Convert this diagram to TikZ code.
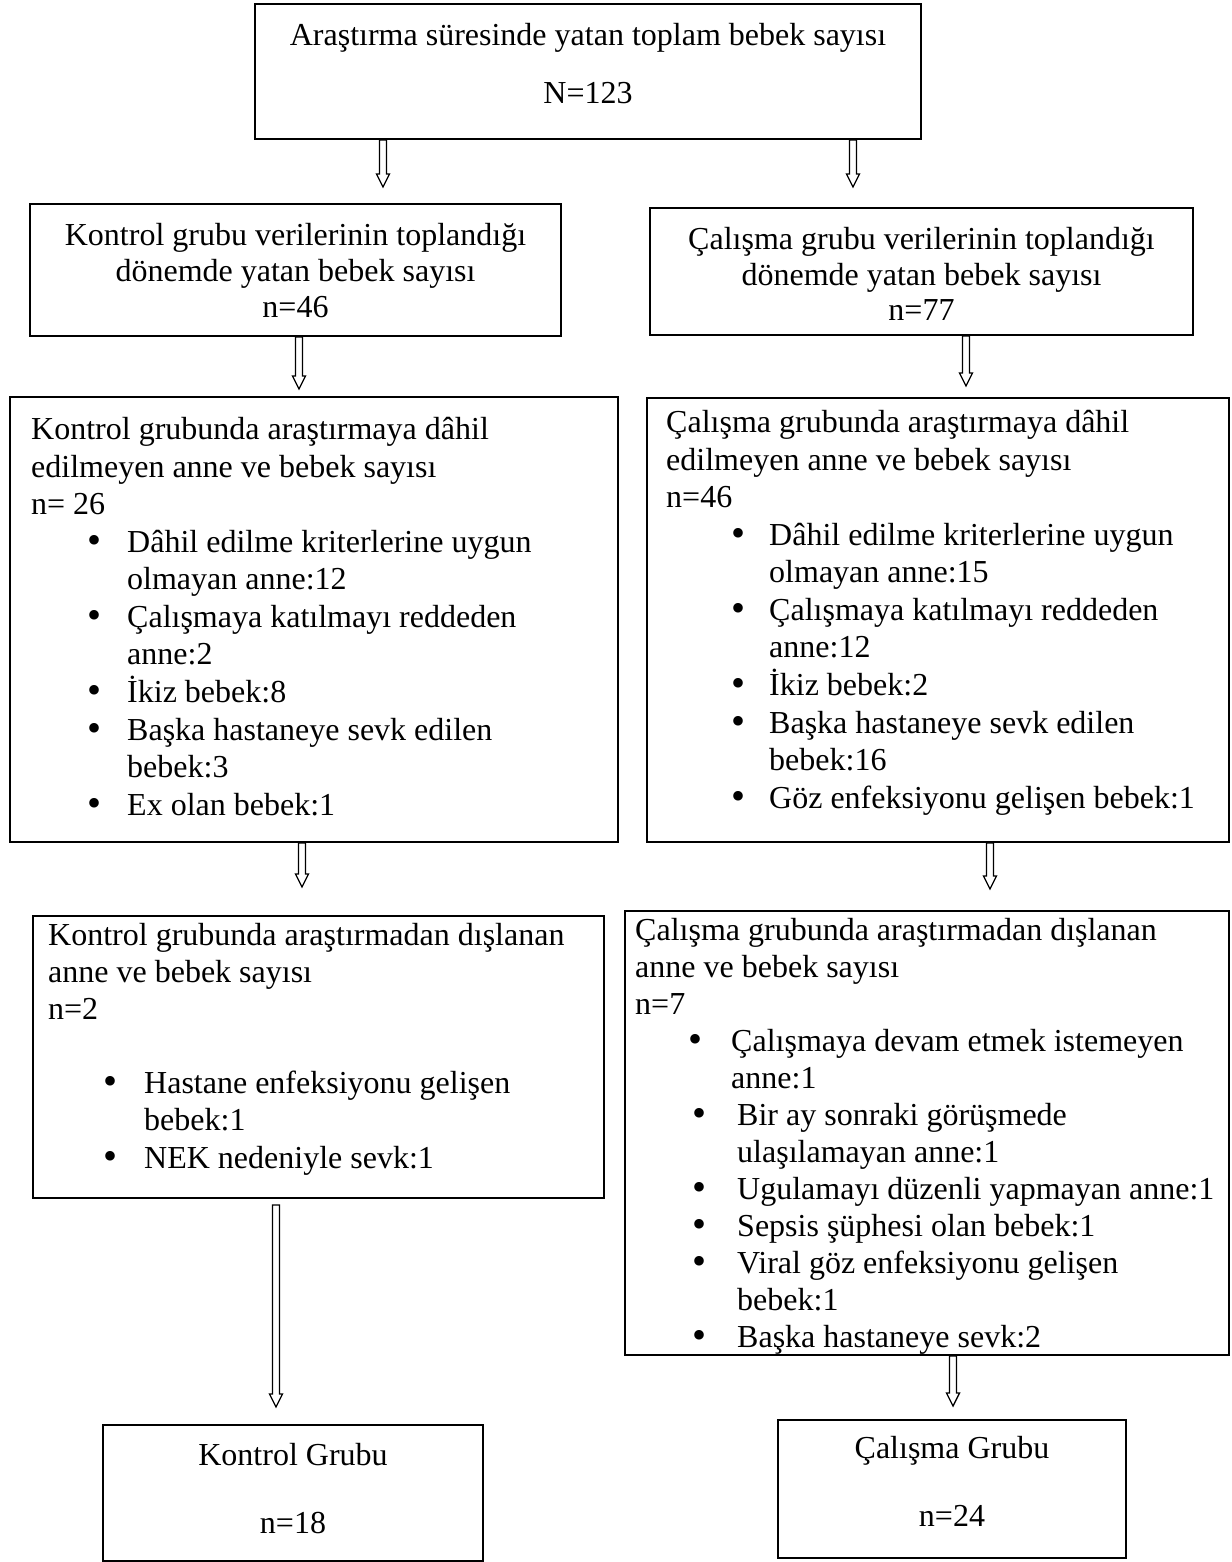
\documentclass[tikz,border=0pt]{standalone}
\usepackage{fontspec}
\usepackage{graphicx}
\setmainfont{Liberation Serif}
\usetikzlibrary{calc}
\newcommand{\fsz}{\fontsize{32}{37}\selectfont}
\newcommand{\tl}[4]{\node[txt] (#1) at (#2,#3) {#4};}
\newcommand{\tc}[4]{\node[ctxt] (#1) at (#2,#3) {#4};}
\newcommand{\tb}[3]{\node[txt, yshift=-1.5pt] (#1) at (#2,#3) {\scalebox{1.25}{\textbullet}};}
\begin{document}
\begin{tikzpicture}[x=1pt,y=-1pt,
  box/.style={draw, line width=2pt, inner sep=0pt},
  txt/.style={inner sep=0pt, font=\fsz, anchor=base west},
  ctxt/.style={inner sep=0pt, font=\fsz, anchor=base},
  harrow/.style={line width=1.3pt, line join=miter, to path={
     let \p1=(\tikztostart), \p2=(\tikztotarget) in
     (\x1-3.5pt,\y1) -- (\x1-3.5pt,\y2+13pt) -- (\x1-6.5pt,\y2+13pt) -- (\x1,\y2)
     -- (\x1+6.5pt,\y2+13pt) -- (\x1+3.5pt,\y2+13pt) -- (\x1+3.5pt,\y1) -- cycle}}
]
\useasboundingbox (0,0) rectangle (1231,1562);

% boxes
\node[box, minimum width=666, minimum height=135] (T)  at (588,71.5) {};
\node[box, minimum width=531, minimum height=132] (L2) at (295.5,270) {};
\node[box, minimum width=543, minimum height=127] (R2) at (921.5,271.5) {};
\node[box, minimum width=608, minimum height=445] (L3) at (314,619.5) {};
\node[box, minimum width=582, minimum height=444] (R3) at (938,620) {};
\node[box, minimum width=571, minimum height=282] (L4) at (318.5,1057) {};
\node[box, minimum width=604, minimum height=444] (R4) at (927,1133) {};
\node[box, minimum width=380, minimum height=136] (L5) at (293,1493) {};
\node[box, minimum width=348, minimum height=138] (R5) at (952,1489) {};

% arrows
\coordinate (a1) at (383,0);
\coordinate (a2) at (853,0);
\coordinate (a3) at (299,0);
\coordinate (a4) at (966,0);
\coordinate (a5) at (302,0);
\coordinate (a6) at (990,0);
\coordinate (a7) at (276,0);
\coordinate (a8) at (953,0);
\draw[harrow] (T.south -| a1) to ($(L2.north -| a1)+(0,-16)$);
\draw[harrow] (T.south -| a2) to ($(R2.north -| a2)+(0,-20)$);
\draw[harrow] (L2.south -| a3) to ($(L3.north -| a3)+(0,-7)$);
\draw[harrow] (R2.south -| a4) to ($(R3.north -| a4)+(0,-11)$);
\draw[harrow] (L3.south -| a5) to ($(L4.north -| a5)+(0,-28)$);
\draw[harrow] (R3.south -| a6) to ($(R4.north -| a6)+(0,-21)$);
\draw[harrow] ($(L4.south -| a7)+(0,6)$) to ($(L5.north -| a7)+(0,-17)$);
\draw[harrow] (R4.south -| a8) to ($(R5.north -| a8)+(0,-13)$);

% top
\tc{t1}{588}{46}{Araştırma süresinde yatan toplam bebek sayısı}
\tc{t2}{588}{104}{N=123}

% level 2
\tc{l2a}{295.5}{245}{Kontrol grubu verilerinin toplandığı}
\tc{l2b}{295.5}{281}{dönemde yatan bebek sayısı}
\tc{l2c}{295.5}{317}{n=46}
\tc{r2a}{921.5}{250}{Çalışma grubu verilerinin toplandığı}
\tc{r2b}{921.5}{285}{dönemde yatan bebek sayısı}
\tc{r2c}{921.5}{320}{n=77}

% level 3 left
\tl{l3a}{31}{439}{Kontrol grubunda araştırmaya dâhil}
\tl{l3b}{31}{477}{edilmeyen anne ve bebek sayısı}
\tl{l3c}{31}{514}{n= 26}
\tb{l3d}{87}{552}\tl{l3e}{127}{552}{Dâhil edilme kriterlerine uygun}
\tl{l3f}{127}{589}{olmayan anne:12}
\tb{l3g}{87}{627}\tl{l3h}{127}{627}{Çalışmaya katılmayı reddeden}
\tl{l3i}{127}{664}{anne:2}
\tb{l3j}{87}{702}\tl{l3k}{127}{702}{İkiz bebek:8}
\tb{l3l}{87}{740}\tl{l3m}{127}{740}{Başka hastaneye sevk edilen}
\tl{l3n}{127}{777}{bebek:3}
\tb{l3o}{87}{815}\tl{l3p}{127}{815}{Ex olan bebek:1}

% level 3 right
\tl{r3a}{666}{432}{Çalışma grubunda araştırmaya dâhil}
\tl{r3b}{666}{470}{edilmeyen anne ve bebek sayısı}
\tl{r3c}{666}{507}{n=46}
\tb{r3d}{731}{545}\tl{r3e}{769}{545}{Dâhil edilme kriterlerine uygun}
\tl{r3f}{769}{582}{olmayan anne:15}
\tb{r3g}{731}{620}\tl{r3h}{769}{620}{Çalışmaya katılmayı reddeden}
\tl{r3i}{769}{657}{anne:12}
\tb{r3j}{731}{695}\tl{r3k}{769}{695}{İkiz bebek:2}
\tb{r3l}{731}{733}\tl{r3m}{769}{733}{Başka hastaneye sevk edilen}
\tl{r3n}{769}{770}{bebek:16}
\tb{r3o}{731}{808}\tl{r3p}{769}{808}{Göz enfeksiyonu gelişen bebek:1}

% level 4 left
\tl{l4a}{48}{945}{Kontrol grubunda araştırmadan dışlanan}
\tl{l4b}{48}{982}{anne ve bebek sayısı}
\tl{l4c}{48}{1019}{n=2}
\tb{l4d}{103}{1093}\tl{l4e}{144}{1093}{Hastane enfeksiyonu gelişen}
\tl{l4f}{144}{1130}{bebek:1}
\tb{l4g}{103}{1168}\tl{l4h}{144}{1168}{NEK nedeniyle sevk:1}

% level 4 right
\tl{r4a}{635}{940}{Çalışma grubunda araştırmadan dışlanan}
\tl{r4b}{635}{977}{anne ve bebek sayısı}
\tl{r4c}{635}{1014}{n=7}
\tb{r4d}{688}{1051}\tl{r4e}{731}{1051}{Çalışmaya devam etmek istemeyen}
\tl{r4f}{731}{1088}{anne:1}
\tb{r4g}{692}{1125}\tl{r4h}{737}{1125}{Bir ay sonraki görüşmede}
\tl{r4i}{737}{1162}{ulaşılamayan anne:1}
\tb{r4j}{692}{1199}\tl{r4k}{737}{1199}{Ugulamayı düzenli yapmayan anne:1}
\tb{r4l}{692}{1236}\tl{r4m}{737}{1236}{Sepsis şüphesi olan bebek:1}
\tb{r4n}{692}{1273}\tl{r4o}{737}{1273}{Viral göz enfeksiyonu gelişen}
\tl{r4p}{737}{1310}{bebek:1}
\tb{r4q}{692}{1347}\tl{r4r}{737}{1347}{Başka hastaneye sevk:2}

% level 5
\tc{l5a}{293}{1465}{Kontrol Grubu}
\tc{l5b}{293}{1533}{n=18}
\tc{r5a}{952}{1458}{Çalışma Grubu}
\tc{r5b}{952}{1526}{n=24}
\end{tikzpicture}
\end{document}
